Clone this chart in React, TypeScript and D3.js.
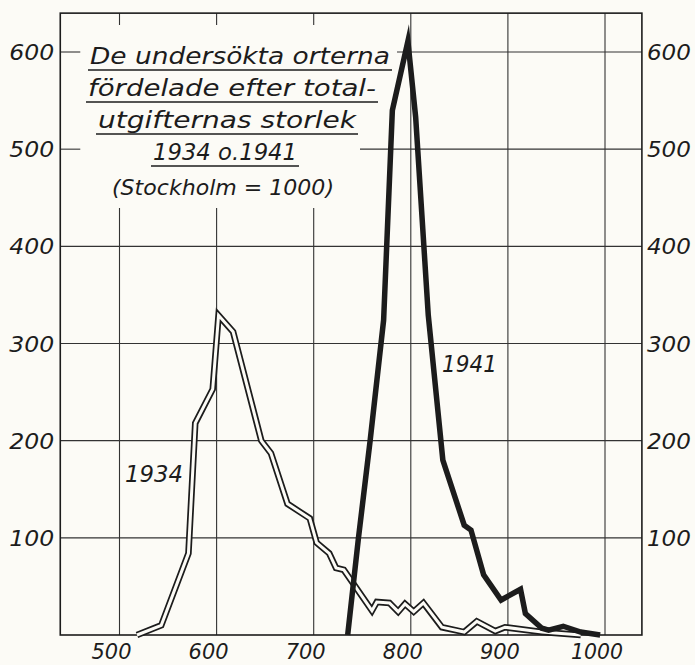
import { useEffect, useRef } from 'react';
import * as d3 from 'd3';

const W = 695;
const H = 665;

const xTicks = [500, 600, 700, 800, 900, 1000];
const yTicks = [100, 200, 300, 400, 500, 600];

// 1934: total expenditure index (Stockholm = 1000) vs number of towns
const spend1934 = [518, 543, 571, 578, 596, 602, 617, 646, 656, 673, 696, 703, 716, 723, 731, 760, 765, 778, 787, 794, 803, 813, 832, 855, 868, 887, 897, 935, 975];
const towns1934 = [0, 10, 84, 218, 253, 329, 312, 200, 187, 135, 120, 95, 84, 69, 67, 25, 34, 33, 24, 32, 24, 33, 8, 3, 14, 4, 8, 3, 0];

// 1941
const spend1941 = [735, 746, 758, 772, 781, 797, 805, 818, 833, 855, 862, 875, 893, 913, 918, 935, 942, 957, 975, 995];
const towns1941 = [0, 99, 199, 324, 540, 611, 533, 329, 180, 113, 108, 62, 36, 47, 22, 7, 5, 9, 3, 0];

const titleLines = ['De undersökta orterna', 'fördelade efter total-', 'utgifternas storlek', '1934 o.1941'];
const subtitle = '(Stockholm = 1000)';

const BG = '#fcfbf6';
const INK = '#1c1c1c';
const FONT = '"DejaVu Sans", sans-serif';

export default function App() {
  const svgRef = useRef<SVGSVGElement>(null);

  useEffect(() => {
    if (!svgRef.current) return;
    const svg = d3.select(svgRef.current);
    svg.selectAll('*').remove();

    const x = d3.scaleLinear().domain([500, 1000]).range([119.5, 605]);
    const y = d3.scaleLinear().domain([0, 600]).range([635, 52]);
    const xMin = 439, xMax = 1038, yMax = 640;

    svg.append('rect').attr('width', W).attr('height', H).attr('fill', BG);

    // gridlines; the title block interrupts the upper-left ones
    const grid = svg.append('g').attr('stroke', '#333').attr('stroke-width', 1.1);
    const titleTop = 25, titleBottom = 208;
    xTicks.forEach((v) => {
      if (v <= 700) {
        grid.append('line').attr('x1', x(v)).attr('x2', x(v)).attr('y1', y(yMax)).attr('y2', titleTop);
        grid.append('line').attr('x1', x(v)).attr('x2', x(v)).attr('y1', titleBottom).attr('y2', y(0));
      } else {
        grid.append('line').attr('x1', x(v)).attr('x2', x(v)).attr('y1', y(yMax)).attr('y2', y(0));
      }
    });
    const hStart: Record<number, number> = { 600: 397, 500: 360 };
    yTicks.forEach((v) => {
      if (hStart[v]) {
        grid.append('line').attr('x1', x(xMin)).attr('x2', x(xMin) + 20).attr('y1', y(v)).attr('y2', y(v));
        grid.append('line').attr('x1', hStart[v]).attr('x2', x(xMax)).attr('y1', y(v)).attr('y2', y(v));
      } else {
        grid.append('line').attr('x1', x(xMin)).attr('x2', x(xMax)).attr('y1', y(v)).attr('y2', y(v));
      }
    });

    svg.append('rect')
      .attr('x', x(xMin)).attr('y', y(yMax))
      .attr('width', x(xMax) - x(xMin)).attr('height', y(0) - y(yMax))
      .attr('fill', 'none').attr('stroke', INK).attr('stroke-width', 1.6);

    const path = (xs: number[], ys: number[]) =>
      d3.line<number>().x((d) => x(d)).y((_, i) => y(ys[i]))(xs) as string;

    // 1934 as a double (hollow) line
    svg.append('path').attr('d', path(spend1934, towns1934))
      .attr('fill', 'none').attr('stroke', INK).attr('stroke-width', 6.5)
      .attr('stroke-linejoin', 'miter').attr('stroke-miterlimit', 10);
    svg.append('path').attr('d', path(spend1934, towns1934))
      .attr('fill', 'none').attr('stroke', BG).attr('stroke-width', 3)
      .attr('stroke-linejoin', 'miter').attr('stroke-miterlimit', 10);

    // 1941 heavy line
    svg.append('path').attr('d', path(spend1941, towns1941))
      .attr('fill', 'none').attr('stroke', INK).attr('stroke-width', 5.5)
      .attr('stroke-linejoin', 'miter').attr('stroke-miterlimit', 12);

    const label = (sel: d3.Selection<SVGTextElement, unknown, null, undefined>, size: number) =>
      sel.attr('font-family', FONT).attr('font-style', 'italic').attr('font-weight', 300)
        .attr('font-size', size).attr('fill', INK);

    yTicks.forEach((v) => {
      label(svg.append('text'), 22).attr('x', x(xMin) - 6).attr('y', y(v) + 8)
        .attr('text-anchor', 'end').attr('textLength', 45).attr('lengthAdjust', 'spacingAndGlyphs').text(v);
      label(svg.append('text'), 22).attr('x', x(xMax) + 5).attr('y', y(v) + 8)
        .attr('text-anchor', 'start').attr('textLength', 44).attr('lengthAdjust', 'spacingAndGlyphs').text(v);
    });
    xTicks.forEach((v) => {
      label(svg.append('text'), 22).attr('x', x(v) - 8).attr('y', 659)
        .attr('text-anchor', 'middle')
        .attr('textLength', v >= 1000 ? 52 : 40).attr('lengthAdjust', 'spacingAndGlyphs').text(v);
    });

    // title block
    const tx = [90, 88, 98, 153];
    const tw = [300, 288, 258, 144];
    const ty = [64, 96, 128, 160];
    titleLines.forEach((t, i) => {
      label(svg.append('text'), 23).attr('x', tx[i]).attr('y', ty[i])
        .attr('textLength', tw[i]).attr('lengthAdjust', 'spacingAndGlyphs').text(t);
      svg.append('line').attr('x1', tx[i] - 2).attr('x2', tx[i] + tw[i] + 2)
        .attr('y1', ty[i] + 6).attr('y2', ty[i] + 6)
        .attr('stroke', INK).attr('stroke-width', 1.4);
    });
    label(svg.append('text'), 22).attr('x', 112).attr('y', 195)
      .attr('textLength', 222).attr('lengthAdjust', 'spacingAndGlyphs').text(subtitle);

    label(svg.append('text'), 23).attr('x', 125).attr('y', 482)
      .attr('textLength', 58).attr('lengthAdjust', 'spacingAndGlyphs').text('1934');
    label(svg.append('text'), 23).attr('x', 442).attr('y', 372)
      .attr('textLength', 55).attr('lengthAdjust', 'spacingAndGlyphs').text('1941');
  }, []);

  return (
    <svg
      ref={svgRef}
      width={W}
      height={H}
      viewBox={`0 0 ${W} ${H}`}
      style={{ position: 'absolute', left: 0, top: 0, display: 'block' }}
    />
  );
}
